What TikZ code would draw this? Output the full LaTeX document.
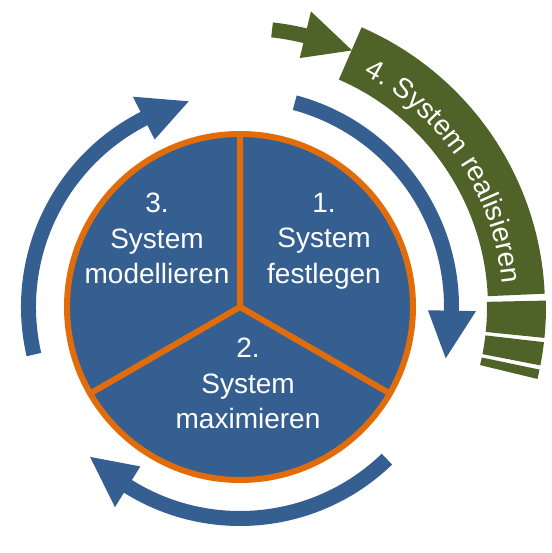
\documentclass[tikz,border=0pt]{standalone}
\usepackage{fontspec}
\setmainfont{Liberation Sans}
\usetikzlibrary{decorations.text}

\definecolor{cycleblue}{HTML}{365F91}
\definecolor{cycleorange}{HTML}{E36C0A}
\definecolor{cyclegreen}{HTML}{4F6228}

\begin{document}
\begin{tikzpicture}[x=1pt, y=1pt,
    phase/.style={text=white, align=center, inner sep=0, anchor=north,
      font=\fontsize{28}{35.5}\selectfont},
    ring/.style={cycleorange, line width=6}]
  \useasboundingbox (-240,-246) rectangle (311,307);

  % disc with the three phases
  \fill[cycleblue] (0,0) circle[radius=173];
  \draw[ring, line cap=round] (90:173) -- (0,0) -- (210:173) (0,0) -- (330:173);
  \draw[ring] (0,0) circle[radius=173];

  \node[phase] (festlegen) at (84,114) {1.\\System\\festlegen};
  \node[phase] (maximieren) at (8,-31) {2.\\System\\maximieren};
  \node[phase] (modellieren) at (-83,114) {3.\\System\\modellieren};

  % blue cycle arrows
  \foreach \a in {75,-46,193}{
    \fill[cycleblue] (\a:219) arc[start angle=\a, end angle=\a-76, radius=219]
      -- (\a-76:236) -- (\a-89:212) -- (\a-76:188) -- (\a-76:204)
      arc[start angle=\a-76, end angle=\a, radius=204] -- cycle;
  }

  % step 4, green band with stripes
  \fill[cyclegreen] (66.5:305) arc[start angle=66.5, end angle=2.5, radius=305]
    -- (2.5:248) arc[start angle=2.5, end angle=66.5, radius=248] -- cycle;
  \foreach \s/\e in {1.2/-5.8, -6.6/-11, -11.8/-13.6}
    \fill[cyclegreen] (\s:306) arc[start angle=\s, end angle=\e, radius=306]
      -- (\e:247) arc[start angle=\e, end angle=\s, radius=247] -- cycle;
  \fill[cyclegreen] (83.4:286.5) arc[start angle=83.4, end angle=76.5, radius=286.5]
    -- (76.5:304) -- (66.4:280) -- (76.5:256) -- (76.5:271.5)
    arc[start angle=76.5, end angle=83.4, radius=271.5] -- cycle;

  \path[decorate, decoration={text along path, text color=white,
      text={|\fontsize{28}{30}\selectfont|4. System realisieren}}]
    (62:263) arc[start angle=62, end angle=-5, radius=263];
\end{tikzpicture}
\end{document}
